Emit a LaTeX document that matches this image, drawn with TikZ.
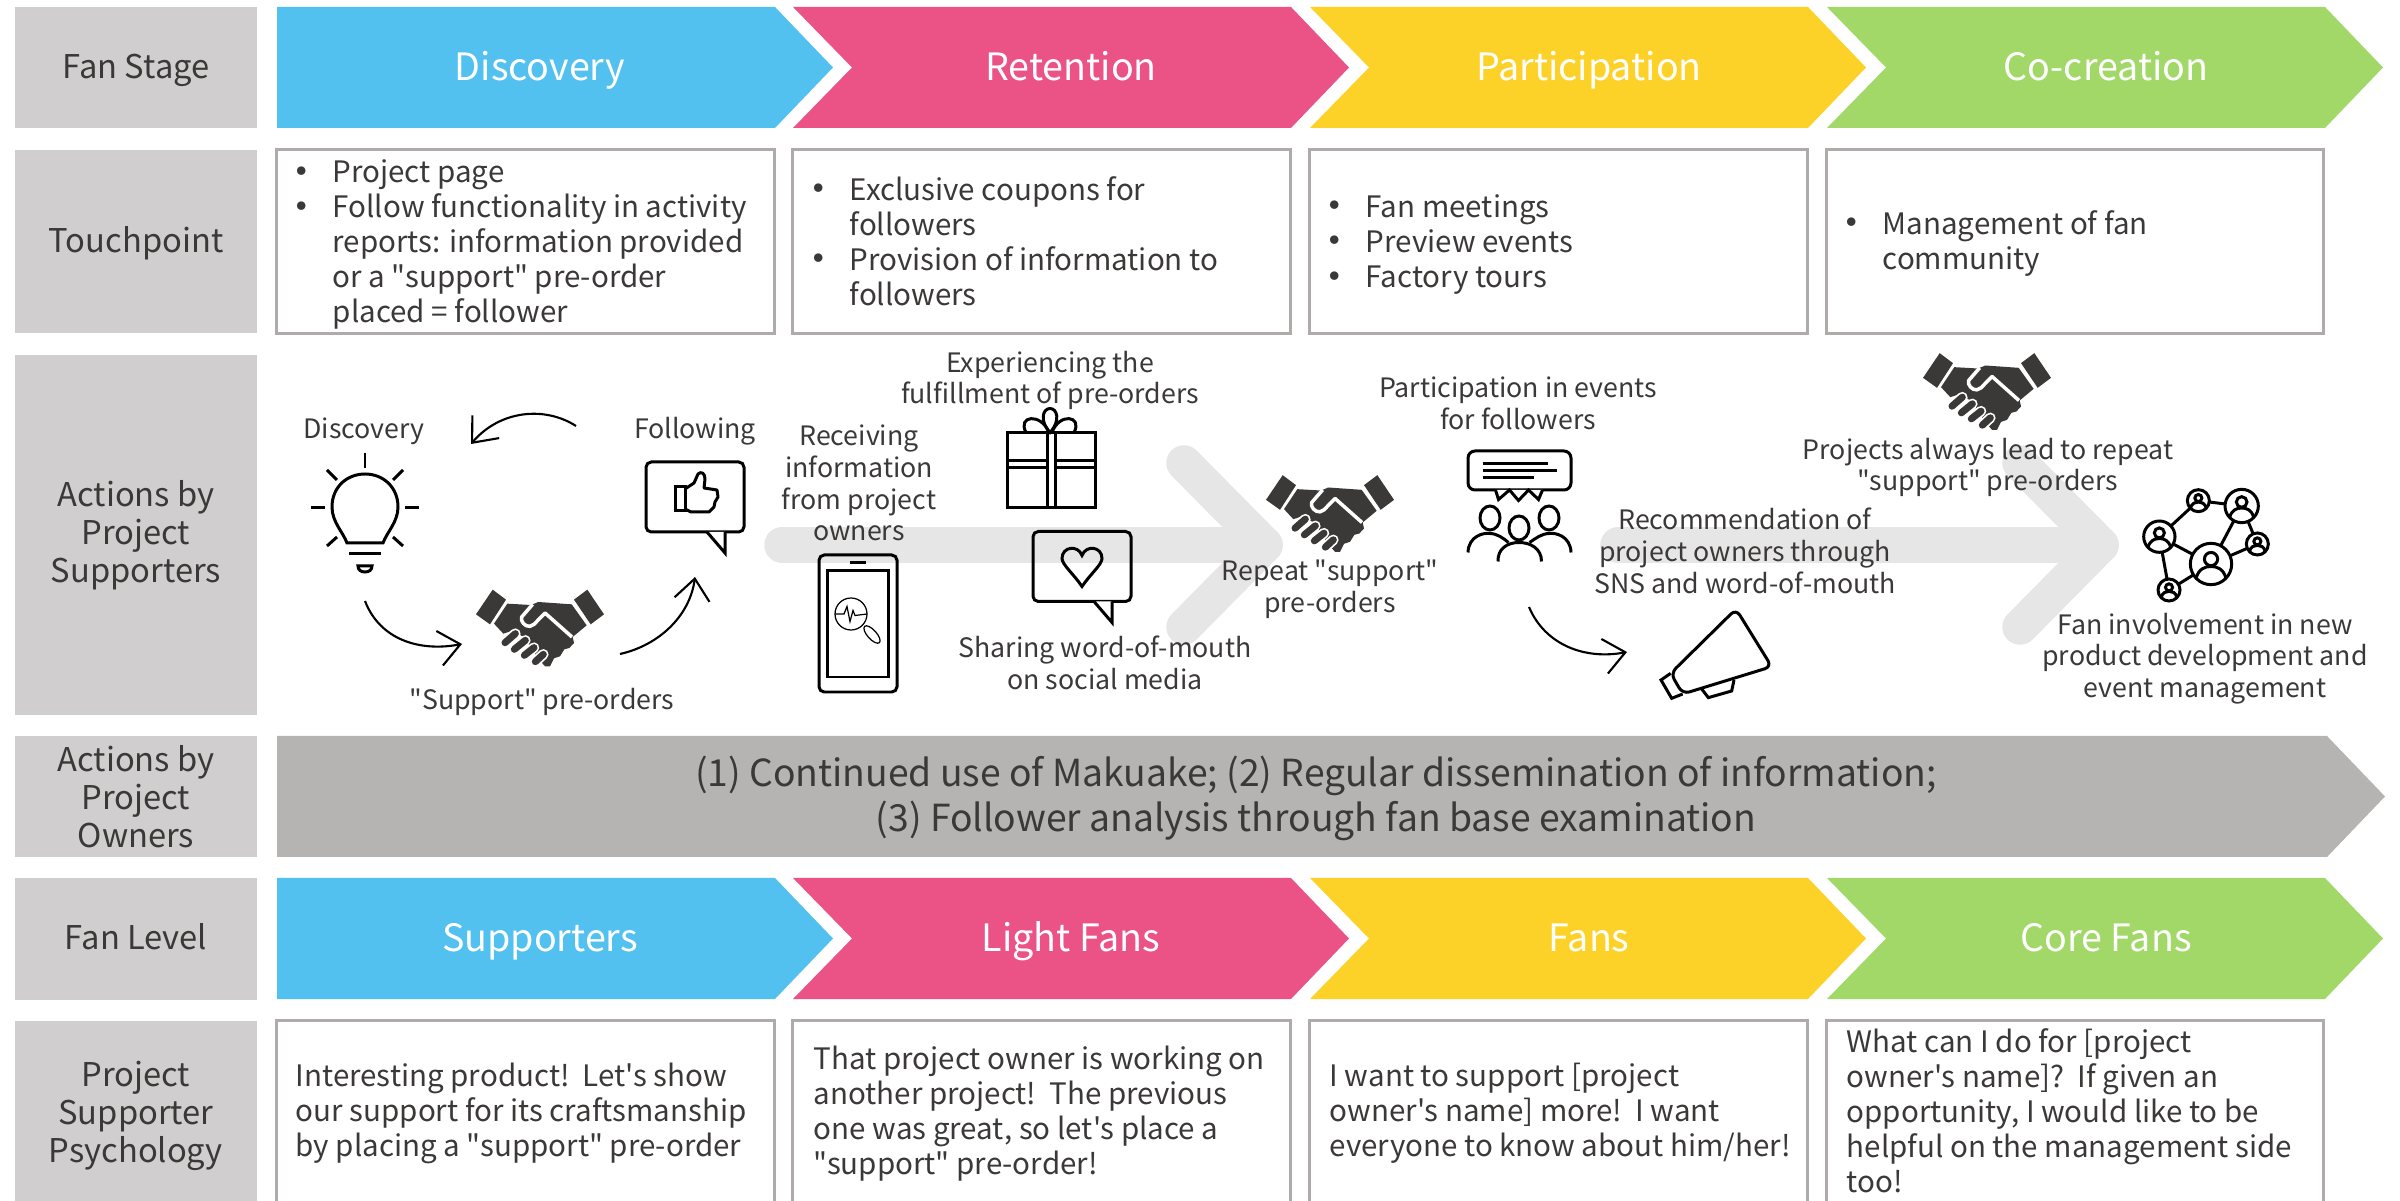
\documentclass[tikz,border=0pt]{standalone}
\usepackage{fontspec}
\setmainfont{Noto Sans CJK SC}[Ligatures=TeXOff]
\usetikzlibrary{arrows.meta}
\definecolor{fanblue}{HTML}{53C1F0}
\definecolor{fanpink}{HTML}{EB5286}
\definecolor{fanyellow}{HTML}{FDD228}
\definecolor{fangreen}{HTML}{A2D868}
\definecolor{headgray}{HTML}{D0CECE}
\definecolor{boxgray}{HTML}{AFABAB}
\definecolor{ownergray}{HTML}{B5B4B2}
\definecolor{flowgray}{HTML}{E7E6E6}
\definecolor{inkgray}{HTML}{3B3838}
\newcommand{\bul}{\leavevmode\llap{\raisebox{-1pt}[0pt][0pt]{\fontsize{11.5}{11.5}\selectfont\textbullet}\hspace{3pt}}}

\tikzset{
    bubbleicon/.pic={
        \draw[iconline,rounded corners=1.5pt] (-49,-35) rectangle (49,35);
        \draw[iconline,fill=white] (12,35) -- (30,56) -- (30,35);
    },
    thumbicon/.pic={
        \draw[iconline] (-20,-10) rectangle (-10,14);
        \draw[iconline,line join=round] (-10,-8) -- (-1,-14) -- (3,-23) .. controls (6,-26) and (10,-24) .. (10,-18) -- (9,-9) -- (22,-7) -- (23,0) -- (20,5) -- (19,10) -- (14,15) -- (-4,15) -- (-10,12);
    },
    hearticon/.pic={
        \draw[iconline] (0,20) .. controls (-8,8) and (-20,-2) .. (-20,-8) .. controls (-20,-20) and (-4,-22) .. (0,-11) .. controls (4,-22) and (20,-20) .. (20,-8) .. controls (20,-2) and (8,8) .. cycle;
    },
    bulbicon/.pic={
        \draw[iconline] (-18,36) .. controls (-22,25) and (-33,15) .. (-33,0) .. controls (-33,-20) and (-18,-33) .. (0,-33) .. controls (18,-33) and (33,-20) .. (33,0) .. controls (33,15) and (22,25) .. (18,36) -- cycle;
        \foreach \xa/\ya/\xb/\yb in {0/-54/0/-39,-54/1/-40/1,40/1/54/1,-38/-37/-28/-27,38/-37/28/-27,-38/39/-28/30,38/39/28/30,-16/47/16/47}
            \draw[iconline] (\xa,\ya) -- (\xb,\yb);
        \draw[iconline] (-7,59) -- (7,59) .. controls (7,63) and (4,65) .. (0,65) .. controls (-4,65) and (-7,63) .. cycle;
    },
    shakeicon/.pic={
        \begin{scope}[scale=1/3,shift={(-210,-143)}]
        \fill[inkgray] (68,28) -- (108,58) -- (60,132) -- (18,102) -- cycle;
        \fill[inkgray] (352,28) -- (312,58) -- (362,132) -- (402,102) -- cycle;
        \fill[inkgray] (112,70) -- (183,74) -- (205,65) -- (305,72) -- (350,135) -- (308,170) -- (312,188) -- (298,203) -- (283,207) -- (270,228) -- (252,234) -- (240,258) -- (225,258) -- (205,235) -- (160,170) -- (130,150) -- (100,160) -- (72,130) -- cycle;
        \draw[white,line width=1pt,line join=round] (188,72) -- (155,110) .. controls (150,122) and (165,140) .. (180,138) -- (192,132) -- (225,98) -- (306,170);
        \foreach \xa/\ya/\xb/\yb in {105/187/136/160,133/207/166/180,163/225/192/202,196/244/220/222} {
            \draw[white,line width=3pt,line cap=round] (\xa,\ya) -- (\xb,\yb);
            \draw[inkgray,line width=2pt,line cap=round] (\xa,\ya) -- (\xb,\yb);
        }
        \end{scope}
    },
    phoneicon/.pic={
        \draw[iconline,rounded corners=1.5pt] (-39,-68.5) rectangle (39,68.5);
        \draw[iconline] (-31,-52.5) rectangle (30,53.5);
        \draw[iconline] (-8,-60.5) -- (8,-60.5);
        \draw[iconthin] (-7,-9.5) circle (16);
        \draw[iconthin] (-23,-9.5) -- (-14,-9.5) -- (-11,-17) -- (-8,-2) -- (-5,-13) -- (-3,-8) -- (9,-9.5);
        \draw[iconthin,rotate around={-48:(14,11)}] (14,11) ellipse (11 and 4.5);
    },
    gifticon/.pic={
        \draw[iconline] (-44,-37.5) rectangle (44,37.5);
        \draw[iconline] (-4,-37.5) -- (-4,37.5) (4,-37.5) -- (4,37.5);
        \draw[iconline] (-44,-9.5) -- (-4,-9.5) (-44,-2.5) -- (-4,-2.5) (4,-9.5) -- (44,-9.5) (4,-2.5) -- (44,-2.5);
        \draw[iconline] (-2,-38) .. controls (-10,-58) and (-34,-55) .. (-25,-38);
        \draw[iconline] (-1,-38) .. controls (-12,-50) and (-8,-62) .. (-1,-62) .. controls (6,-62) and (10,-50) .. cycle;
        \draw[iconline] (1,-38) .. controls (8,-58) and (32,-55) .. (23,-38);
    },
    crowdicon/.pic={
        \draw[iconline,rounded corners=2pt] (-51.5,-19.5) rectangle (51.5,19.5);
        \draw[iconline,fill=white] (-24,19.5) -- (-21,29) -- (-10,19.5) -- (-1,30) -- (9,19.5) -- (19,29) -- (23,19.5);
        \draw[iconline] (-37,-6.5) -- (28,-6.5) (-37,0.5) -- (37,0.5) (-37,7.5) -- (14,7.5);
        \foreach \xa/\ya in {-29.5/47.5,-0.5/57.5,29.5/47.5}
            \draw[iconline] (\xa,\ya) ellipse (10 and 12);
        \draw[iconline] (-51.5,82) .. controls (-51,65) and (-35,62) .. (-30,63) .. controls (-22,63) and (-16,68) .. (-11,72);
        \draw[iconline] (51.5,82) .. controls (51,65) and (35,62) .. (30,63) .. controls (22,63) and (16,68) .. (10,72);
        \draw[iconline] (-21.5,91) .. controls (-22,78) and (-12,72) .. (-0.5,72) .. controls (11,72) and (22,78) .. (22,91);
    },
    hornicon/.pic={
        \begin{scope}[scale=1/3,shift={(-225,-150)}]
        \draw[iconline,rounded corners=2pt] (62,205) -- (258,12) -- (365,185) -- (98,267) -- cycle;
        \draw[iconline] (62,205) -- (33,225) -- (65,280) -- (98,267);
        \draw[iconline] (155,252) -- (175,278) -- (245,258) -- (252,225);
        \end{scope}
    },
    neticon/.pic={
        \begin{scope}[scale=1/3,shift={(-225,-195)}]
        \foreach \xa/\ya/\xb/\yb in {88/170/205/62,205/62/335/78,335/78/243/252,335/78/382/192,382/192/243/252,88/170/243/252,88/170/117/330,117/330/243/252}
            \draw[iconline] (\xa,\ya) -- (\xb,\yb);
        \foreach \nx/\ny/\nr in {88/170/47,205/62/33,335/78/50,382/192/33,243/252/62,117/330/33} {
            \begin{scope}[shift={(\nx,\ny)},scale=\nr/50]
            \draw[iconline,fill=white] (0,0) circle (50);
            \draw[iconline] (0,-12) circle (16);
            \draw[iconline] (-36,34) .. controls (-30,12) and (-15,6) .. (0,6) .. controls (15,6) and (30,12) .. (36,34);
            \end{scope}
        }
        \end{scope}
    }
}

\begin{document}
\begin{tikzpicture}[
    x=0.01cm,
    y=-0.01cm,
    rowhead/.style={
        fill=headgray,
        minimum width=2.42cm,
        inner sep=0pt,
        align=center,
        text=inkgray,
        font=\fontsize{9.3}{10.8}\selectfont
    },
    oneline/.style={text height=6.2pt,text depth=0pt},
    tpbox/.style={
        draw=boxgray,
        line width=0.8pt,
        minimum width=4.97cm,
        minimum height=1.84cm,
        inner sep=0pt
    },
    bodytext/.style={
        anchor=west,
        align=left,
        inner sep=0pt,
        text=inkgray,
        font=\fontsize{8.4}{9.96}\selectfont
    },
    acttext/.style={
        align=center,
        inner sep=0pt,
        text=inkgray,
        font=\fontsize{7.6}{9}\selectfont
    },
    fantext/.style={
        inner sep=0pt,
        text height=7pt,
        text depth=0pt,
        text=white,
        font=\fontsize{10.7}{13}\selectfont
    },
    iconline/.style={draw=black,line width=0.85pt},
    iconthin/.style={draw=black,line width=0.35pt},
    flowarrow/.style={flowgray,line width=10.1pt,line cap=round,line join=round},
    cyclearrow/.style={draw=black,line width=0.6pt,-{Straight Barb[length=6pt,width=10pt]}}
]
\clip (0,0) rectangle (2400,1201);
\useasboundingbox (0,0) rectangle (2400,1201);

% left column
\node[rowhead,oneline,minimum height=1.21cm] (headstage) at (136,67.5) {Fan Stage};
\node[rowhead,oneline,minimum height=1.83cm] (headtouch) at (136,241.5) {Touchpoint};
\node[rowhead,minimum height=3.60cm] (headactions) at (136,535) {Actions by\\Project\\Supporters};
\node[rowhead,minimum height=1.21cm] (headowners) at (136,796.5) {Actions by\\Project\\Owners};
\node[rowhead,oneline,minimum height=1.22cm] (headlevel) at (136,939) {Fan Level};
\node[rowhead,minimum height=1.90cm] (headmind) at (136,1116) {Project\\Supporter\\Psychology};

% chevrons
\foreach \xs/\fanc/\nd in {277/fanblue/0,793/fanpink/59,1310/fanyellow/59,1827/fangreen/59}
    \foreach \ys in {7,878}
        \fill[\fanc] (\xs,\ys) -- ++(498,0) -- ++(58,60.5) -- ++(-58,60.5) -- ++(-498,0) -- ++(\nd,-60.5) -- cycle;
\fill[ownergray] (277,736) -- (2327,736) -- (2385,796.5) -- (2327,857) -- (277,857) -- cycle;

\node[fantext] (stagea) at (540,68.5) {Discovery};
\node[fantext] (stageb) at (1071,68.5) {Retention};
\node[fantext] (stagec) at (1589,68.5) {Participation};
\node[fantext] (staged) at (2106,68.5) {Co-creation};
\node[fantext] (levela) at (540,939.5) {Supporters};
\node[fantext] (levelb) at (1071,939.5) {Light Fans};
\node[fantext] (levelc) at (1589,939.5) {Fans};
\node[fantext] (leveld) at (2106,939.5) {Core Fans};
\node[align=center,inner sep=0pt,text=inkgray,font=\fontsize{10.6}{12.6}\selectfont] (ownertext) at (1316,798.5)
{(1) Continued use of Makuake; (2) Regular dissemination of information;\\(3) Follower analysis through fan base examination};

% touchpoints
\node[tpbox] (tpa) at (525.5,241.5) {};
\node[tpbox] (tpb) at (1041.5,241.5) {};
\node[tpbox] (tpc) at (1558.5,241.5) {};
\node[tpbox] (tpd) at (2075,241.5) {};
\node[bodytext] (tpatext) at (332,244.5) {\bul Project page\\\bul Follow functionality in activity\\reports: information provided\\or a "support" pre-order\\placed = follower};
\node[bodytext] (tpbtext) at (849,241) {\bul Exclusive coupons for\\followers\\\bul Provision of information to\\followers};
\node[bodytext] (tpctext) at (1365,244.5) {\bul Fan meetings\\\bul Preview events\\\bul Factory tours};
\node[bodytext] (tpdtext) at (1882,243.5) {\bul Management of fan\\community};

% actions
\draw[flowarrow] (782,545) -- (1265,545);
\draw[flowarrow] (1184,463) -- (1265,545) -- (1184,627);
\draw[flowarrow] (1618,545) -- (2101,545);
\draw[flowarrow] (2020,463) -- (2101,545) -- (2020,627);

\node[acttext] (lbdiscovery) at (364,431.5) {Discovery};
\node[acttext] (lbfollowing) at (695,431.5) {Following};
\node[acttext] (lbsupport) at (542,701.5) {"Support" pre-orders};
\node[acttext] (lbreceive) at (859,483) {Receiving\\information\\from project\\owners};
\node[acttext] (lbfulfil) at (1050,380.5) {Experiencing the\\fulfillment of pre-orders};
\node[acttext] (lbsharing) at (1105,663) {Sharing word-of-mouth\\on social media};
\node[acttext] (lbrepeat) at (1330,589) {Repeat "support"\\pre-orders};
\node[acttext] (lbevents) at (1518,403.5) {Participation in events\\for followers};
\node[acttext] (lbrecommend) at (1745,551) {Recommendation of\\project owners through\\SNS and word-of-mouth};
\node[acttext] (lbalways) at (1988,467.5) {Projects always lead to repeat\\"support" pre-orders};
\node[acttext] (lbinvolve) at (2205,658.5) {Fan involvement in new\\product development and\\event management};

\pic at (365,507) {bulbicon};
\pic at (695,497) {bubbleicon};
\pic at (695,497) {thumbicon};
\pic at (540,628) {shakeicon};
\pic at (858,623.5) {phoneicon};
\pic at (1051,470.5) {gifticon};
\pic at (1082,566.5) {bubbleicon};
\pic at (1082,566.5) {hearticon};
\pic at (1330,513.5) {shakeicon};
\pic at (1519.5,470.5) {crowdicon};
\pic at (1725,655) {hornicon};
\pic at (1987,391.5) {shakeicon};
\pic at (2205,545) {neticon};

\coordinate (cyclea) at (576,426);
\coordinate (cycleb) at (471,444);
\coordinate (cyclec) at (365,601);
\coordinate (cycled) at (462,644);
\coordinate (cyclee) at (620,654);
\coordinate (cyclef) at (695,577);
\coordinate (horna) at (1529,607);
\coordinate (hornb) at (1627,652);
\draw[cyclearrow] (cyclea) .. controls (545,406) and (500,410) .. (cycleb);
\draw[cyclearrow] (cyclec) .. controls (380,640) and (420,652) .. (cycled);
\draw[cyclearrow] (cyclee) .. controls (660,645) and (690,615) .. (cyclef);
\draw[cyclearrow] (horna) .. controls (1545,645) and (1585,660) .. (hornb);

% psychology
\node[tpbox,minimum height=1.95cm] (minda) at (525.5,1118) {};
\node[tpbox,minimum height=1.95cm] (mindb) at (1041.5,1118) {};
\node[tpbox,minimum height=1.95cm] (mindc) at (1558.5,1118) {};
\node[tpbox,minimum height=1.95cm] (mindd) at (2075,1118) {};
\node[bodytext] (mindatext) at (295,1113) {Interesting product!\ \ Let's show\\our support for its craftsmanship\\by placing a "support" pre-order};
\node[bodytext] (mindbtext) at (813,1114) {That project owner is working on\\another project!\ \ The previous\\one was great, so let's place a\\"support" pre-order!};
\node[bodytext] (mindctext) at (1329,1113) {I want to support [project\\owner's name] more!\ \ I want\\everyone to know about him/her!};
\node[bodytext] (minddtext) at (1846,1111) {What can I do for [project\\owner's name]?\ \ If given an\\opportunity, I would like to be\\helpful on the management side\\too!};

\end{tikzpicture}
\end{document}
